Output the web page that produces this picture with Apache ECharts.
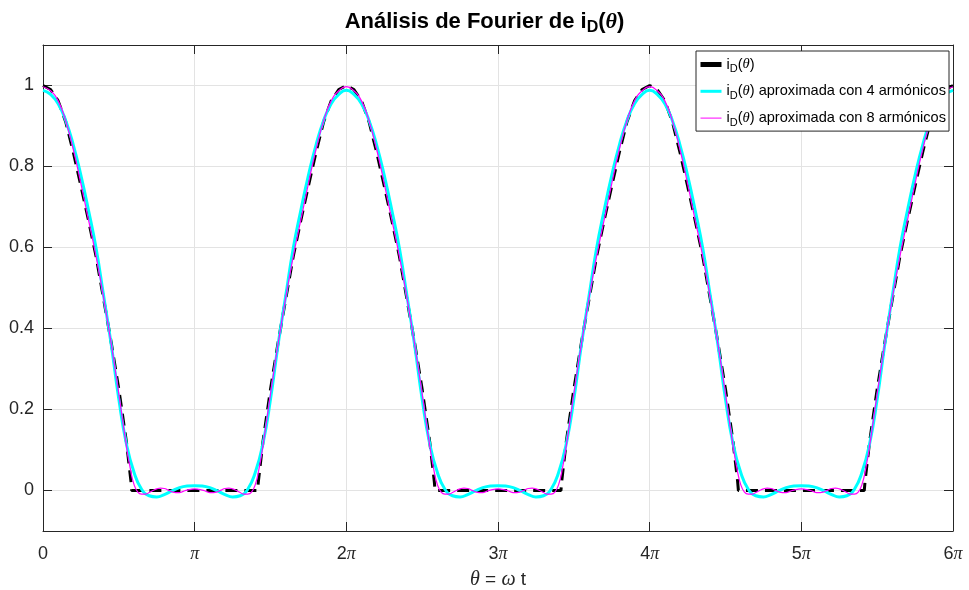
<!DOCTYPE html>
<html>
<head>
<meta charset="utf-8">
<script src="https://cdn.jsdelivr.net/npm/echarts@6/dist/echarts.min.js"></script>
<style>
  html, body { margin: 0; padding: 0; background: #fff; }
  #chart { width: 969px; height: 590px; }
</style>
</head>
<body>
<div id="chart"></div>
<script>
// One period (0 .. 2π) of each waveform; angles are in multiples of π.
// The waveform repeats every 2π and is drawn over three periods.
const periods = 3;

// i_D(θ): conduction pulse, zero between roughly 0.585π and 1.415π
const thetaExact = [0, 0.05, 0.10, 0.15, 0.20, 0.25, 0.30, 0.35, 0.40, 0.45, 0.50, 0.55, 0.57, 0.58, 0.585,
                    1.415, 1.42, 1.43, 1.45, 1.50, 1.55, 1.60, 1.65, 1.70, 1.75, 1.80, 1.85, 1.90, 1.95];
const valuesExact = [1.0, 0.99, 0.962, 0.91, 0.835, 0.752, 0.667, 0.578, 0.472, 0.365, 0.25, 0.12, 0.055, 0.022, 0,
                     0, 0.022, 0.055, 0.12, 0.25, 0.365, 0.472, 0.578, 0.667, 0.752, 0.835, 0.91, 0.962, 0.99];

// Fourier series truncated at 4 harmonics
const theta4 = [0, 0.05, 0.10, 0.15, 0.20, 0.25, 0.30, 0.35, 0.40, 0.45, 0.50, 0.55, 0.60, 0.65, 0.70, 0.75, 0.80, 0.85, 0.90, 0.95,
                1.00, 1.05, 1.10, 1.15, 1.20, 1.25, 1.30, 1.35, 1.40, 1.45, 1.50, 1.55, 1.60, 1.65, 1.70, 1.75, 1.80, 1.85, 1.90, 1.95];
const values4 = [0.988, 0.978, 0.955, 0.913, 0.853, 0.778, 0.692, 0.598, 0.48, 0.36, 0.225, 0.115, 0.045, 0.003, -0.013, -0.016, -0.01, -0.001, 0.007, 0.011,
                 0.012, 0.011, 0.007, -0.001, -0.01, -0.016, -0.013, 0.003, 0.045, 0.115, 0.225, 0.36, 0.48, 0.598, 0.692, 0.778, 0.853, 0.913, 0.955, 0.978];

// Fourier series truncated at 8 harmonics
const theta8 = [0, 0.05, 0.10, 0.15, 0.20, 0.25, 0.30, 0.35, 0.40, 0.45, 0.50, 0.55,
                0.575, 0.60, 0.625, 0.65, 0.675, 0.70, 0.725, 0.75, 0.775, 0.80, 0.825, 0.85, 0.875, 0.90, 0.925, 0.95, 0.975,
                1.00, 1.025, 1.05, 1.075, 1.10, 1.125, 1.15, 1.175, 1.20, 1.225, 1.25, 1.275, 1.30, 1.325, 1.35, 1.375, 1.40, 1.425,
                1.45, 1.50, 1.55, 1.60, 1.65, 1.70, 1.75, 1.80, 1.85, 1.90, 1.95];
const values8 = [0.997, 0.987, 0.962, 0.912, 0.842, 0.758, 0.668, 0.578, 0.475, 0.362, 0.238, 0.11,
                 0.055, 0.015, -0.004, -0.009, -0.009, -0.005, 0.0, 0.004, 0.006, 0.005, 0.001, -0.003, -0.005, -0.005, -0.002, 0.001, 0.003,
                 0.004, 0.003, 0.001, -0.002, -0.005, -0.005, -0.003, 0.001, 0.005, 0.006, 0.004, 0.0, -0.005, -0.009, -0.009, -0.004, 0.015, 0.055,
                 0.11, 0.238, 0.362, 0.475, 0.578, 0.668, 0.758, 0.842, 0.912, 0.962, 0.987];

const xTickMultiples = [0, 1, 2, 3, 4, 5, 6];
const yTicks = [0, 0.2, 0.4, 0.6, 0.8, 1];

const seriesNames = ['i_D(θ)', 'i_D(θ) aproximada con 4 armónicos', 'i_D(θ) aproximada con 8 armónicos'];
const legendTexts = {
  'i_D(θ)': '{n|i}{s|D}{n|(}{t|θ}{n|)}',
  'i_D(θ) aproximada con 4 armónicos': '{n|i}{s|D}{n|(}{t|θ}{n|) aproximada con 4 armónicos}',
  'i_D(θ) aproximada con 8 armónicos': '{n|i}{s|D}{n|(}{t|θ}{n|) aproximada con 8 armónicos}'
};

// Repeat one period over the full range, with the closing point at 6π
function tile(thetas, values) {
  const pts = [];
  for (let p = 0; p < periods; p++) {
    for (let i = 0; i < thetas.length; i++) {
      pts.push([(thetas[i] + 2 * p) * Math.PI, values[i]]);
    }
  }
  pts.push([2 * periods * Math.PI, values[0]]);
  return pts;
}

const axisColor = '#262626';
const gridColor = '#e3e3e3';
const sans = 'Liberation Sans, Arial, Helvetica, sans-serif';
const serif = 'Liberation Serif, DejaVu Serif, serif';

const chart = echarts.init(document.getElementById('chart'), null, { renderer: 'canvas' });

const boxAxis = {
  axisLine: { show: true, onZero: false, lineStyle: { color: axisColor, width: 1 } },
  axisTick: { show: true, inside: true, length: 9, lineStyle: { color: axisColor } }
};

chart.setOption({
  animation: false,
  backgroundColor: '#ffffff',
  title: {
    text: '{b|Análisis de Fourier de i}{s|D}{b|(}{t|θ}{b|)}',
    left: 'center',
    top: 3,
    textStyle: {
      rich: {
        b: { fontFamily: sans, fontWeight: 'bold', fontSize: 22, color: '#000' },
        s: { fontFamily: sans, fontWeight: 'bold', fontSize: 16, color: '#000', padding: [12, 0, 0, 0] },
        t: { fontFamily: serif, fontStyle: 'italic', fontSize: 22, color: '#000' }
      }
    }
  },
  grid: { left: 43, right: 16, top: 45, bottom: 59, containLabel: false, outerBoundsMode: 'none' },
  legend: {
    z: 20,
    orient: 'vertical',
    left: 696,
    top: 51,
    padding: [6, 3, 3, 2],
    itemWidth: 21,
    itemHeight: 14,
    itemGap: 9.3,
    backgroundColor: '#ffffff',
    borderColor: axisColor,
    borderWidth: 1,
    borderRadius: 0,
    itemStyle: { opacity: 0 },
    data: [
      { name: seriesNames[0], lineStyle: { type: 'solid', width: 5 } },
      { name: seriesNames[1], lineStyle: { type: 'solid', width: 3 } },
      { name: seriesNames[2], lineStyle: { type: 'solid', width: 1 } }
    ],
    formatter: name => legendTexts[name],
    textStyle: {
      rich: {
        n: { fontFamily: sans, fontSize: 14.6, color: '#000' },
        s: { fontFamily: sans, fontSize: 11, color: '#000', padding: [9, 0, 0, 0] },
        t: { fontFamily: serif, fontStyle: 'italic', fontSize: 14.6, color: '#000' }
      }
    }
  },
  xAxis: [
    Object.assign({}, boxAxis, {
      type: 'value',
      position: 'bottom',
      min: 0,
      max: 6 * Math.PI,
      interval: Math.PI,
      name: '{t|θ}{n| = }{t|ω}{n| t}',
      nameLocation: 'middle',
      nameGap: 39,
      nameTextStyle: {
        rich: {
          n: { fontFamily: sans, fontSize: 19, color: axisColor },
          t: { fontFamily: serif, fontStyle: 'italic', fontSize: 20, color: axisColor }
        }
      },
      splitLine: { show: true, lineStyle: { color: gridColor, width: 1 } },
      axisLabel: {
        margin: 14,
        fontFamily: sans,
        fontSize: 18,
        color: axisColor,
        formatter: v => {
          const n = Math.round(v / Math.PI);
          if (xTickMultiples.indexOf(n) < 0) return '';
          if (n === 0) return '0';
          return (n === 1 ? '' : n) + '{p|π}';
        },
        rich: {
          p: { fontFamily: serif, fontStyle: 'italic', fontSize: 18, color: axisColor }
        }
      }
    }),
    Object.assign({}, boxAxis, {
      type: 'value',
      position: 'top',
      min: 0,
      max: 6 * Math.PI,
      interval: Math.PI,
      splitLine: { show: false },
      axisLabel: { show: false }
    })
  ],
  yAxis: [
    {
      type: 'value',
      position: 'left',
      min: -0.1,
      max: 1.1,
      axisLine: { show: true, onZero: false, lineStyle: { color: axisColor, width: 1 } },
      axisTick: { show: true, inside: true, length: 9, customValues: yTicks, lineStyle: { color: axisColor } },
      splitLine: { show: true, lineStyle: { color: gridColor, width: 1 } },
      axisLabel: {
        customValues: yTicks,
        margin: 9,
        fontFamily: sans,
        fontSize: 18,
        color: axisColor,
        formatter: v => String(+(+v).toFixed(1))
      }
    },
    {
      type: 'value',
      position: 'right',
      min: -0.1,
      max: 1.1,
      axisLine: { show: true, onZero: false, lineStyle: { color: axisColor, width: 1 } },
      axisTick: { show: true, inside: true, length: 9, customValues: yTicks, lineStyle: { color: axisColor } },
      splitLine: { show: false },
      axisLabel: { show: false }
    }
  ],
  series: [
    {
      name: seriesNames[0],
      type: 'line',
      data: tile(thetaExact, valuesExact),
      showSymbol: false,
      symbol: 'none',
      smooth: false,
      lineStyle: { color: '#000000', width: 3, type: [12, 7] },
      itemStyle: { color: '#000000' },
      z: 2
    },
    {
      name: seriesNames[1],
      type: 'line',
      data: tile(theta4, values4),
      showSymbol: false,
      symbol: 'none',
      smooth: 0.5,
      lineStyle: { color: '#00ffff', width: 3 },
      itemStyle: { color: '#00ffff' },
      z: 3
    },
    {
      name: seriesNames[2],
      type: 'line',
      data: tile(theta8, values8),
      showSymbol: false,
      symbol: 'none',
      smooth: 0.5,
      lineStyle: { color: '#ff00ff', width: 1.2 },
      itemStyle: { color: '#ff00ff' },
      z: 4
    }
  ]
});
</script>
</body>
</html>
